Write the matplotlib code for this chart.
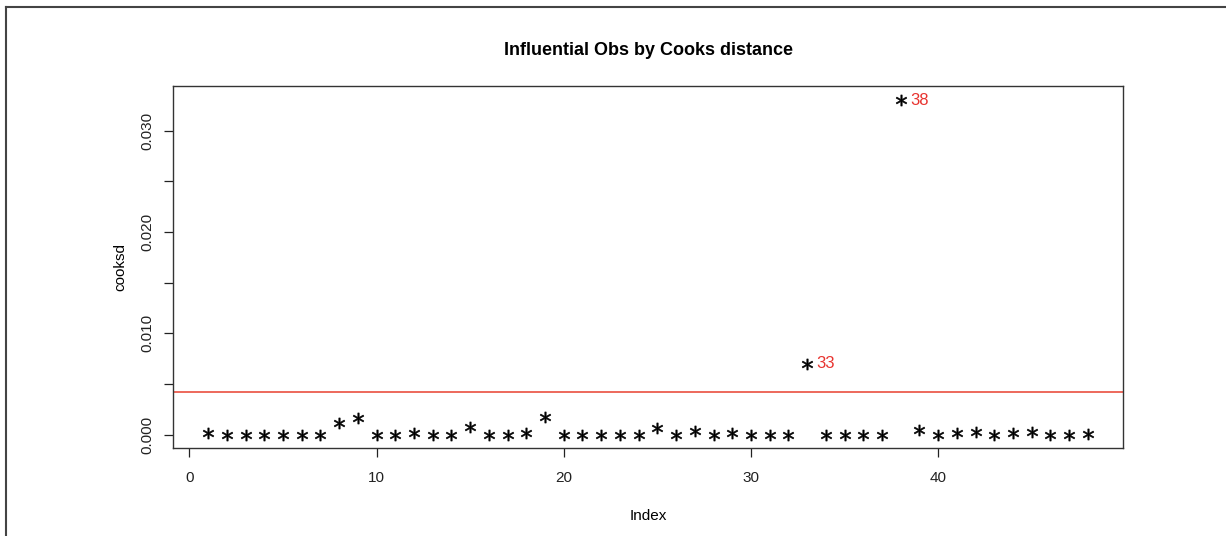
import matplotlib.pyplot as plt
from matplotlib.lines import Line2D

plt.rcParams['font.family'] = ['Liberation Sans', 'DejaVu Sans']

# cook's distance per observation (index 1..48)
index = list(range(1, 49))
cooksd = [0.0002, 0.0, 0.0, 0.0, 0.0, 0.0, 0.0, 0.0011, 0.0016, 0.0,
          0.0, 0.0002, 0.0, 0.0, 0.0008, 0.0, 0.0, 0.0002, 0.0017, 0.0,
          0.0, 0.0, 0.0, 0.0, 0.0007, 0.0, 0.0004, 0.0, 0.0002, 0.0,
          0.0, 0.0, 0.0070, 0.0, 0.0, 0.0, 0.0, 0.0330, 0.0005, 0.0,
          0.0002, 0.0003, 0.0, 0.0002, 0.0003, 0.0, 0.0, 0.0001]
cutoff = 0.00417
influential = [33, 38]

fig = plt.figure(figsize=(12.26, 5.36), dpi=100)
ax = fig.add_axes([0.1411, 0.1642, 0.7749, 0.6754])

ax.plot(index, cooksd, linestyle='none', marker='$*$', markersize=8,
        color='black', markeredgewidth=0.4)
ax.axhline(cutoff, color='#e8402f', linewidth=1.1)

for i in influential:
    ax.annotate(str(i), (i, cooksd[i - 1]), xytext=(7, 0),
                textcoords='offset points', va='center', ha='left',
                color='#e8332f', fontsize=12)

ax.set_xlim(-0.88, 49.88)
ax.set_ylim(-0.00132, 0.03442)

ax.set_xticks([0, 10, 20, 30, 40])
yt = [0, 0.005, 0.010, 0.015, 0.020, 0.025, 0.030]
ax.set_yticks(yt)
ax.set_yticklabels(['0.000', '', '0.010', '', '0.020', '', '0.030'],
                   rotation=90, va='center')
ax.tick_params(direction='out', length=6.5, width=0.9, labelsize=11,
               colors='#222222')
ax.tick_params(axis='x', pad=10)
ax.tick_params(axis='y', pad=7)

for s in ax.spines.values():
    s.set_linewidth(1.0)
    s.set_color('#333333')

ax.set_title('Influential Obs by Cooks distance', fontsize=13,
             fontweight='bold', pad=22)
ax.set_xlabel('Index', fontsize=11, labelpad=17)
ax.set_ylabel('cooksd', fontsize=11, labelpad=9)

# outer frame of the screenshot
fig.add_artist(Line2D([6 / 1226, 1], [1 - 7 / 536, 1 - 7 / 536],
                      transform=fig.transFigure, color='#444444', linewidth=1.5))
fig.add_artist(Line2D([6 / 1226, 6 / 1226], [0, 1 - 7 / 536],
                      transform=fig.transFigure, color='#444444', linewidth=1.5))

fig.savefig('out.png', dpi=100)
